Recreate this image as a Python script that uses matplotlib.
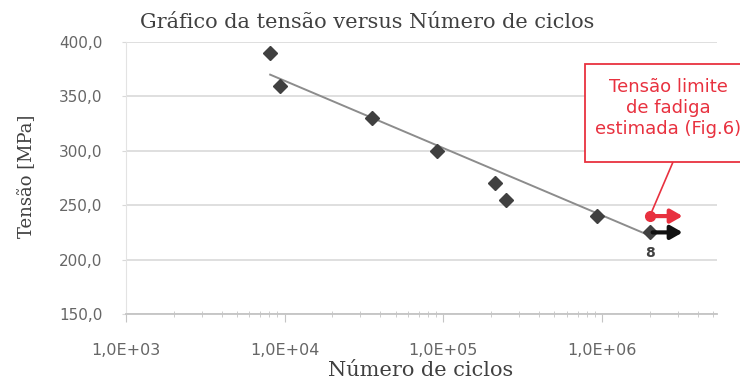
import matplotlib.pyplot as plt
import numpy as np
from matplotlib.ticker import FuncFormatter, LogLocator, NullFormatter
from matplotlib.patches import Rectangle

# ensaios de fadiga: numero de ciclos ate a ruptura e tensao aplicada
ciclos = [8.1e3, 9.3e3, 3.55e4, 9.1e4, 2.1e5, 2.47e5, 9.3e5, 2.0e6]
tensao = [390, 360, 330, 300, 270, 255, 240, 225]

# linha de tendencia (extremos)
tend_x = [8.1e3, 2.0e6]
tend_y = [370, 222]

# limite de fadiga estimado e corpo de prova sem ruptura (seta)
limite_x, limite_y = 2.0e6, 240
runout_x, runout_y = 2.0e6, 225
seta_fim = 3.35e6
n_cp = '8'

W, H = 740, 381
fig = plt.figure(figsize=(W / 100, H / 100), dpi=100)
ax = fig.add_axes([126 / W, 1 - 314 / H, (717 - 126) / W, (314 - 42) / H])

cinza = '#666666'
vermelho = '#e8313f'

ax.set_xscale('log')
ax.set_xlim(1e3, 10 ** 6.724)
ax.set_ylim(150, 400)
ax.set_yticks([150, 200, 250, 300, 350, 400])
ax.xaxis.set_major_locator(LogLocator(base=10, numticks=10))
ax.xaxis.set_minor_locator(LogLocator(base=10, subs=np.arange(2, 10), numticks=20))
ax.xaxis.set_minor_formatter(NullFormatter())
ax.xaxis.set_major_formatter(FuncFormatter(lambda v, p: '1,0E+%02d' % round(np.log10(v))))
ax.yaxis.set_major_formatter(FuncFormatter(lambda v, p: ('%.1f' % v).replace('.', ',')))

ax.grid(axis='y', color='#dcdcdc', lw=1.3)
ax.set_axisbelow(True)
for s in ['top', 'right']:
    ax.spines[s].set_visible(False)
ax.spines['left'].set_color('#e3e3e3')
ax.spines['bottom'].set_color('#c4c4c4')
ax.spines['bottom'].set_linewidth(1.3)

ax.tick_params(axis='y', length=3, color='#d9d9d9', pad=14, labelsize=11, labelcolor=cinza)
ax.tick_params(axis='x', which='major', direction='out', length=6, color='#c4c4c4', pad=15,
               labelsize=11.5, labelcolor=cinza)
ax.tick_params(axis='x', which='minor', direction='inout', length=4, color='#c4c4c4')

# tendencia e pontos
ax.plot(tend_x, tend_y, color='#8c8c8c', lw=1.4, zorder=2)
ax.plot(ciclos, tensao, 'D', color='#404040', ms=7.5, zorder=3)

# setas: corpo sem ruptura e limite estimado
ax.annotate('', xy=(seta_fim, runout_y), xytext=(runout_x, runout_y),
            arrowprops=dict(arrowstyle='-|>,head_width=0.4,head_length=0.7', color='#111111', lw=3),
            zorder=4)
ax.annotate('', xy=(seta_fim, limite_y), xytext=(limite_x, limite_y),
            arrowprops=dict(arrowstyle='-|>,head_width=0.4,head_length=0.7', color=vermelho, lw=3),
            zorder=4)
ax.plot([limite_x], [limite_y], 'o', color=vermelho, ms=7, zorder=5)
ax.annotate(n_cp, xy=(runout_x, runout_y), xytext=(0, -15), textcoords='offset points',
            ha='center', va='center', fontsize=10, color='#404040', fontweight='bold')

# caixa de comentario
caixa = Rectangle((585 / W, 1 - 162 / H), 175 / W, 98 / H, transform=fig.transFigure,
                  facecolor='white', edgecolor=vermelho, lw=1.3, clip_on=False, zorder=6)
fig.patches.append(caixa)
ax.annotate('', xy=(limite_x, limite_y), xycoords='data',
            xytext=(673 / W, 1 - 162 / H), textcoords='figure fraction',
            arrowprops=dict(arrowstyle='-', color=vermelho, lw=1.2, shrinkA=0, shrinkB=3))
fig.text(668 / W, 1 - 108 / H, 'Tensão limite\nde fadiga\nestimada (Fig.6)', ha='center', va='center',
         color=vermelho, fontsize=13, linespacing=1.2, zorder=7)

# titulos
fig.text(367 / W, 1 - 23 / H, 'Gráfico da tensão versus Número de ciclos', ha='center', va='center',
         family='DejaVu Serif', fontsize=15, color='#404040')
fig.text(421 / W, 1 - 371 / H, 'Número de ciclos', ha='center', va='center',
         family='DejaVu Serif', fontsize=15, color='#404040')
fig.text(27 / W, 1 - 176 / H, 'Tensão [MPa]', ha='center', va='center', rotation=90,
         family='DejaVu Serif', fontsize=13, color='#404040')

fig.savefig('out.png', dpi=100)
